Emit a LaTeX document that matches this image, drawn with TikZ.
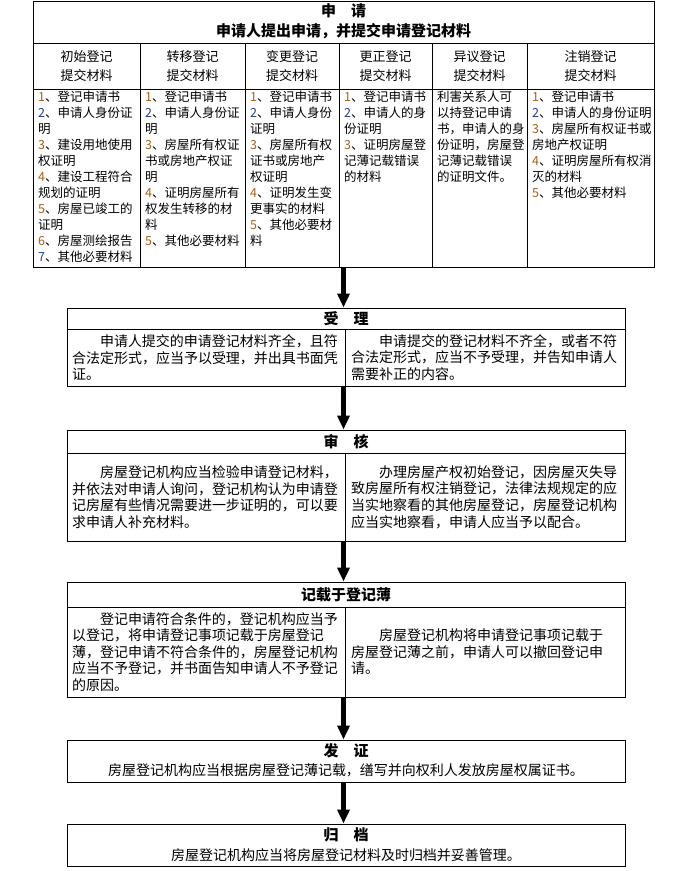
\documentclass[tikz,border=0pt]{standalone}
\usepackage{fontspec}
\setmainfont{Noto Sans CJK SC}
\usepackage{xcolor}
\usetikzlibrary{arrows.meta}
\definecolor{numa}{RGB}{170,95,25}
\definecolor{numb}{RGB}{35,65,150}
\newcommand{\FT}{\fontsize{15}{19}\selectfont\bfseries}
\newcommand{\FC}{\fontsize{13}{19}\selectfont}
\newcommand{\FL}{\fontsize{12.5}{16}\selectfont}
\newcommand{\FB}{\fontsize{14}{16.6}\selectfont}
\newcommand{\na}[1]{\textcolor{numa}{#1}、}
\newcommand{\nb}[1]{\textcolor{numb}{#1}、}

\begin{document}
\begin{tikzpicture}[x=1pt,y=-1pt]
\tikzstyle{caja}=[draw=black,line width=1pt,inner sep=0pt]
\tikzstyle{titulo}=[inner sep=0pt,font=\FT]
\tikzstyle{cabeza}=[inner sep=0pt,align=center,font=\FC]
\tikzstyle{lista}=[anchor=north west,inner sep=0pt,align=left,font=\FL]
\tikzstyle{texto}=[inner sep=0pt,text width=268pt,align=left,font=\FB]
\tikzstyle{line}=[black,line width=1pt]
\tikzstyle{flecha}=[black,line width=4.5pt,-{Triangle[width=12pt,length=14pt]}]

\useasboundingbox (0,0) rectangle (688,871);

% cajas
\node[caja,minimum width=621pt,minimum height=266pt] (apply) at (343.5,134) {};
\node[caja,minimum width=558pt,minimum height=78pt] (accept) at (346,347) {};
\node[caja,minimum width=558pt,minimum height=111pt] (review) at (346,485.5) {};
\node[caja,minimum width=558pt,minimum height=115pt] (record) at (346,639.5) {};
\node[caja,minimum width=558pt,minimum height=42pt] (issue) at (346,761) {};
\node[caja,minimum width=558pt,minimum height=42pt] (archive) at (346,845) {};

% lineas de la tabla
\draw[line] (33,43) -- (654,43);
\draw[line] (33,89) -- (654,89);
\foreach \x in {140,245,339,432,527}
  \draw[line] (\x,43) -- (\x,267);
\foreach \ya/\yb in {329/386,453/541,607/697} {
  \draw[line] (67,\ya) -- (625,\ya);
  \draw[line] (345,\ya) -- (345,\yb);
}

% 申请
\node[titulo] (t1) at (343.5,11) {申\quad 请};
\node[titulo] (t1b) at (343.5,31) {申请人提出申请，并提交申请登记材料};
\foreach \cx/\lab [count=\i] in {86.5/初始登记,192.5/转移登记,292/变更登记,385.5/更正登记,479.5/异议登记,590.5/注销登记}
  \node[cabeza] (h\i) at (\cx,66.5) {\lab\\提交材料};

\node[lista] (c1) at (38,91) {\na{1}登记申请书\\\nb{2}申请人身份证\\明\\\na{3}建设用地使用\\权证明\\\na{4}建设工程符合\\规划的证明\\\na{5}房屋已竣工的\\证明\\\na{6}房屋测绘报告\\\nb{7}其他必要材料};
\node[lista] (c2) at (145,91) {\na{1}登记申请书\\\nb{2}申请人身份证\\明\\\na{3}房屋所有权证\\书或房地产权证\\明\\\na{4}证明房屋所有\\权发生转移的材\\料\\\na{5}其他必要材料};
\node[lista] (c3) at (250,91) {\na{1}登记申请书\\\nb{2}申请人身份\\证明\\\na{3}房屋所有权\\证书或房地产\\权证明\\\na{4}证明发生变\\更事实的材料\\\na{5}其他必要材\\料};
\node[lista] (c4) at (344,91) {\na{1}登记申请书\\\nb{2}申请人的身\\份证明\\\na{3}证明房屋登\\记薄记载错误\\的材料};
\node[lista] (c5) at (437,91) {利害关系人可\\以持登记申请\\书，申请人的身\\份证明，房屋登\\记薄记载错误\\的证明文件。};
\node[lista] (c6) at (532,91) {\na{1}登记申请书\\\nb{2}申请人的身份证明\\\na{3}房屋所有权证书或\\房地产权证明\\\na{4}证明房屋所有权消\\灭的材料\\\na{5}其他必要材料};

% 受理
\node[titulo] (t2) at (346,318.5) {受\quad 理};
\node[texto] (a1) at (206,357.5) {\hspace*{2em}申请人提交的申请登记材料齐全，且符\\合法定形式，应当予以受理，并出具书面凭\\证。};
\node[texto] (a2) at (485,357.5) {\hspace*{2em}申请提交的登记材料不齐全，或者不符\\合法定形式，应当不予受理，并告知申请人\\需要补正的内容。};

% 审核
\node[titulo] (t3) at (346,441.5) {审\quad 核};
\node[texto] (r1) at (206,497) {\hspace*{2em}房屋登记机构应当检验申请登记材料，\\并依法对申请人询问，登记机构认为申请登\\记房屋有些情况需要进一步证明的，可以要\\求申请人补充材料。};
\node[texto] (r2) at (485,497) {\hspace*{2em}办理房屋产权初始登记，因房屋灭失导\\致房屋所有权注销登记，法律法规规定的应\\当实地察看的其他房屋登记，房屋登记机构\\应当实地察看，申请人应当予以配合。};

% 记载于登记薄
\node[titulo] (t4) at (346,594.5) {记载于登记薄};
\node[texto] (d1) at (206,652) {\hspace*{2em}登记申请符合条件的，登记机构应当予\\以登记，将申请登记事项记载于房屋登记\\薄，登记申请不符合条件的，房屋登记机构\\应当不予登记，并书面告知申请人不予登记\\的原因。};
\node[texto] (d2) at (485,652) {\hspace*{2em}房屋登记机构将申请登记事项记载于\\房屋登记薄之前，申请人可以撤回登记申\\请。};

% 发证
\node[titulo] (t5) at (346,751) {发\quad 证};
\node[inner sep=0pt,font=\FB] (e1) at (346,770.5) {房屋登记机构应当根据房屋登记薄记载，缮写并向权利人发放房屋权属证书。};

% 归档
\node[titulo] (t6) at (346,834.5) {归\quad 档};
\node[inner sep=0pt,font=\FB] (g1) at (346,855) {房屋登记机构应当将房屋登记材料及时归档并妥善管理。};

% flechas
\draw[flecha] (apply.south) -- (apply.south |- accept.north);
\draw[flecha] (apply.south |- accept.south) -- (apply.south |- review.north);
\draw[flecha] (apply.south |- review.south) -- (apply.south |- record.north);
\draw[flecha] (apply.south |- record.south) -- (apply.south |- issue.north);
\draw[flecha] (apply.south |- issue.south) -- (apply.south |- archive.north);
\end{tikzpicture}
\end{document}
